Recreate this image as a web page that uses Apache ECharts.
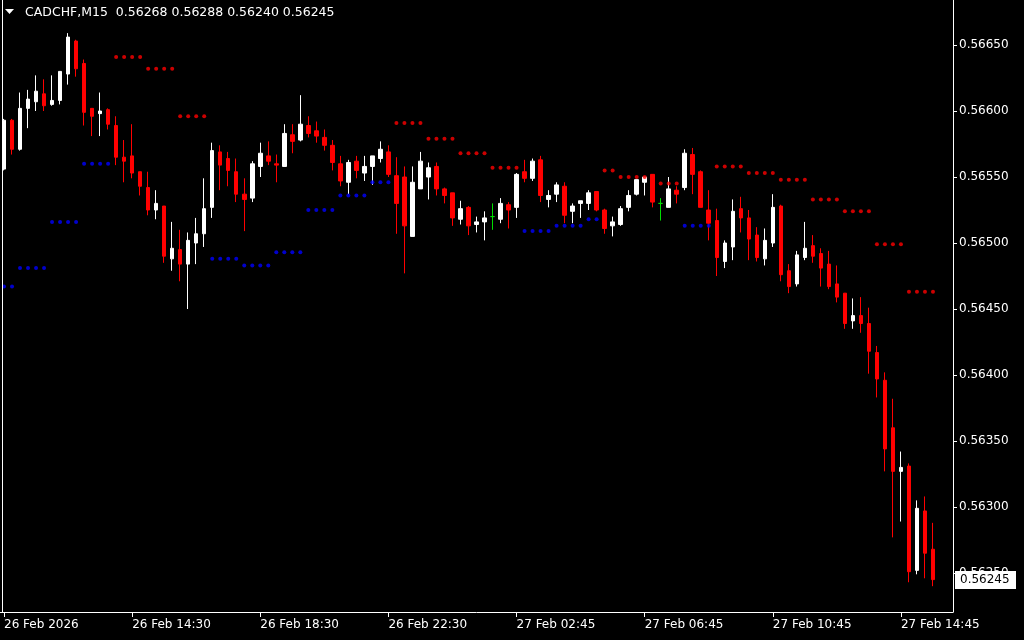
<!DOCTYPE html>
<html><head><meta charset="utf-8">
<script src="https://cdn.jsdelivr.net/npm/echarts@6/dist/echarts.min.js"></script>
<style>html,body{margin:0;padding:0;background:#000;}#c{width:1024px;height:640px;}</style>
</head><body><div id="c"></div>
<script>
const symbolName = 'CADCHF,M15';
const timeLabels = ['26 Feb 2026','26 Feb 14:30','26 Feb 18:30','26 Feb 22:30','27 Feb 02:45','27 Feb 06:45','27 Feb 10:45','27 Feb 14:45'];
const priceTicks = [0.56250,0.56300,0.56350,0.56400,0.56450,0.56500,0.56550,0.56600,0.56650];

const opens = [0.56556,0.56593,0.56571,0.56602,0.56607,0.56613,0.56605,0.56608,0.56628,0.56653,
0.56636,0.56602,0.56598,0.56601,0.56589,0.56565,0.56566,0.56554,0.56542,0.56525,
0.56528,0.56488,0.56495,0.56484,0.56500,0.56507,0.56527,0.56569,0.56564,0.56554,
0.56537,0.56534,0.56558,0.56566,0.56560,0.56558,0.56582,0.56578,0.56589,0.56585,
0.56580,0.56574,0.56560,0.56546,0.56562,0.56553,0.56558,0.56564,0.56569,0.56551,
0.56550,0.56505,0.56541,0.56550,0.56558,0.56541,0.56538,0.56518,0.56527,0.56514,
0.56516,0.56520,0.56518,0.56529,0.56527,0.56554,0.56549,0.56563,0.56533,0.56537,
0.56543,0.56524,0.56530,0.56530,0.56539,0.56525,0.56513,0.56514,0.56527,0.56537,
0.56546,0.56552,0.56530,0.56527,0.56540,0.56542,0.56567,0.56554,0.56525,0.56517,
0.56486,0.56497,0.56526,0.56519,0.56506,0.56488,0.56500,0.56528,0.56479,0.56469,
0.56489,0.56498,0.56492,0.56484,0.56469,0.56462,0.56441,0.56445,0.56439,0.56417,
0.56396,0.56360,0.56327,0.56331,0.56252,0.56297,0.56268];
const highs = [0.56594,0.56594,0.56614,0.56616,0.56627,0.56624,0.56627,0.56630,0.56659,0.56654,
0.56639,0.56602,0.56614,0.56602,0.56596,0.56578,0.56590,0.56554,0.56554,0.56540,
0.56528,0.56516,0.56510,0.56508,0.56519,0.56549,0.56576,0.56574,0.56569,0.56564,
0.56549,0.56562,0.56576,0.56577,0.56567,0.56590,0.56590,0.56612,0.56596,0.56592,
0.56586,0.56578,0.56566,0.56563,0.56566,0.56566,0.56566,0.56577,0.56574,0.56565,
0.56558,0.56558,0.56569,0.56561,0.56561,0.56542,0.56538,0.56532,0.56528,0.56520,
0.56524,0.56530,0.56534,0.56531,0.56553,0.56563,0.56564,0.56566,0.56540,0.56546,
0.56546,0.56530,0.56532,0.56540,0.56539,0.56526,0.56520,0.56528,0.56540,0.56548,
0.56550,0.56552,0.56534,0.56550,0.56543,0.56571,0.56572,0.56555,0.56540,0.56526,
0.56502,0.56533,0.56535,0.56525,0.56512,0.56511,0.56537,0.56529,0.56484,0.56494,
0.56516,0.56506,0.56496,0.56494,0.56483,0.56462,0.56458,0.56459,0.56451,0.56422,
0.56402,0.56382,0.56342,0.56333,0.56305,0.56308,0.56288];
const lows = [0.56555,0.56567,0.56570,0.56587,0.56600,0.56600,0.56604,0.56605,0.56620,0.56626,
0.56589,0.56581,0.56581,0.56586,0.56559,0.56546,0.56549,0.56536,0.56521,0.56518,
0.56485,0.56479,0.56471,0.56450,0.56484,0.56497,0.56519,0.56540,0.56543,0.56531,
0.56509,0.56531,0.56550,0.56559,0.56546,0.56558,0.56568,0.56577,0.56580,0.56576,
0.56570,0.56555,0.56543,0.56537,0.56549,0.56547,0.56544,0.56561,0.56550,0.56507,
0.56477,0.56505,0.56541,0.56533,0.56536,0.56530,0.56513,0.56514,0.56506,0.56508,
0.56502,0.56510,0.56515,0.56511,0.56519,0.56546,0.56547,0.56531,0.56527,0.56531,
0.56515,0.56515,0.56519,0.56525,0.56524,0.56507,0.56505,0.56513,0.56524,0.56536,
0.56536,0.56527,0.56517,0.56527,0.56530,0.56540,0.56537,0.56527,0.56502,0.56475,
0.56481,0.56487,0.56508,0.56487,0.56486,0.56483,0.56497,0.56471,0.56462,0.56467,
0.56487,0.56485,0.56467,0.56465,0.56455,0.56435,0.56435,0.56432,0.56401,0.56383,
0.56327,0.56277,0.56289,0.56243,0.56249,0.56246,0.56240];
const closes = [0.56593,0.56571,0.56602,0.56609,0.56615,0.56604,0.56608,0.56630,0.56656,0.56632,
0.56599,0.56596,0.56600,0.56590,0.56565,0.56562,0.56553,0.56543,0.56525,0.56530,
0.56490,0.56496,0.56484,0.56502,0.56507,0.56526,0.56570,0.56559,0.56555,0.56537,
0.56533,0.56560,0.56568,0.56562,0.56559,0.56583,0.56577,0.56590,0.56583,0.56581,
0.56574,0.56561,0.56547,0.56561,0.56555,0.56558,0.56566,0.56571,0.56552,0.56530,
0.56513,0.56546,0.56562,0.56557,0.56541,0.56536,0.56519,0.56526,0.56513,0.56516,
0.56519,0.56520,0.56530,0.56525,0.56552,0.56549,0.56562,0.56536,0.56536,0.56544,
0.56521,0.56528,0.56532,0.56538,0.56525,0.56511,0.56516,0.56526,0.56536,0.56548,
0.56550,0.56531,0.56530,0.56541,0.56537,0.56568,0.56552,0.56527,0.56515,0.56489,
0.56500,0.56524,0.56519,0.56503,0.56489,0.56502,0.56527,0.56476,0.56467,0.56491,
0.56496,0.56490,0.56481,0.56467,0.56459,0.56439,0.56445,0.56439,0.56418,0.56397,
0.56344,0.56327,0.56330,0.56251,0.56299,0.56265,0.56245];

// indicator levels: [firstBar, lastBar, price]
const upperLevels = [[14,17,0.56641],[18,21,0.56632],[22,25,0.56596],[49,52,0.56591],[53,56,0.56579],
[57,60,0.56568],[61,64,0.56557],[75,76,0.56555],[77,80,0.56550],[81,84,0.56545],[89,92,0.56558],
[93,96,0.56553],[97,100,0.56548],[101,104,0.56533],[105,108,0.56524],[109,112,0.56499],[113,116,0.56463]];
const lowerLevels = [[0,1,0.56467],[2,5,0.56481],[6,9,0.56516],[10,13,0.56560],[26,29,0.56488],
[30,33,0.56483],[34,37,0.56493],[38,41,0.56525],[42,45,0.56536],[46,48,0.56546],[65,68,0.56509],
[69,72,0.56513],[73,74,0.56518],[85,88,0.56513]];

const FONT = 'DejaVu Sans';
const UP = '#ffffff', DOWN = '#ff0000', DOJI = '#00dd00';
const emptySlots = 2;
const n = opens.length;
const cats = [];
for (let i = 0; i < n + emptySlots; i++) cats.push(String(i));
const candleData = opens.map((o, i) => {
  const item = { value: [o, closes[i], lows[i], highs[i]] };
  if (o === closes[i]) item.itemStyle = { color: DOJI, color0: DOJI, borderColor: DOJI, borderColor0: DOJI, borderColorDoji: DOJI };
  return item;
});
function expand(levels) {
  const pts = [];
  levels.forEach(([a, b, p]) => { for (let k = a; k <= b; k++) pts.push([String(k), p]); });
  return pts;
}
const yMax = 0.56684091, yMin = 0.56220455;
const last = n - 1;
const fmt = v => v.toFixed(5);

const chart = echarts.init(document.getElementById('c'), null, { renderer: 'canvas' });
chart.setOption({
  backgroundColor: '#000000',
  animation: false,
  grid: { left: 0, right: 71, top: 0, bottom: 28 },
  xAxis: {
    type: 'category', data: cats, boundaryGap: true,
    axisLine: { show: true, lineStyle: { color: '#ffffff', width: 1 } },
    axisTick: { show: true, interval: 15, alignWithLabel: true, length: 5, lineStyle: { color: '#ffffff' } },
    axisLabel: { show: true, interval: 15, align: 'left', margin: 7, color: '#ffffff', fontFamily: FONT, fontSize: 12,
      formatter: (v, idx) => (idx % 16 === 0 && timeLabels[idx / 16]) ? timeLabels[idx / 16] : '' },
    splitLine: { show: false }
  },
  yAxis: {
    type: 'value', position: 'right', min: yMin, max: yMax, scale: true,
    axisLine: { show: true, lineStyle: { color: '#ffffff', width: 1 } },
    axisTick: { show: true, length: 4, customValues: priceTicks, lineStyle: { color: '#ffffff' } },
    axisLabel: { show: true, margin: 6, color: '#ffffff', fontFamily: FONT, fontSize: 12, customValues: priceTicks,
      formatter: v => fmt(v) },
    splitLine: { show: false }
  },
  series: [
    {
      type: 'candlestick', name: symbolName, data: candleData, barWidth: 4, z: 3,
      itemStyle: { color: UP, color0: DOWN, borderColor: UP, borderColor0: DOWN, borderColorDoji: DOJI, borderWidth: 1 }
    },
    {
      type: 'scatter', data: expand(upperLevels), symbol: 'circle', symbolSize: 4, z: 4,
      itemStyle: { color: '#ff0000' }
    },
    {
      type: 'scatter', data: expand(lowerLevels), symbol: 'circle', symbolSize: 4, z: 4,
      itemStyle: { color: '#0000ff' }
    }
  ],
  graphic: [
    { type: 'line', shape: { x1: 2.5, y1: 0, x2: 2.5, y2: 612 }, style: { stroke: '#ffffff', lineWidth: 1 }, z: 10 },
    { type: 'polygon', shape: { points: [[5, 9], [14, 9], [9.5, 14]] }, style: { fill: '#ffffff' }, z: 10 },
    { type: 'text', left: 25, top: 6, z: 10,
      style: { text: symbolName + '  ' + [opens[last], highs[last], lows[last], closes[last]].map(fmt).join(' '),
        fill: '#ffffff', font: '12.5px "' + FONT + '"' } }
  ]
});

// current price tag on the price scale, positioned through the axis scale
const gridRect = chart.getModel().getComponent('grid').coordinateSystem.getRect();
const priceY = chart.convertToPixel({ yAxisIndex: 0 }, closes[last]);
const axisX = gridRect.x + gridRect.width;
chart.setOption({
  graphic: [
    { type: 'line', shape: { x1: 2.5, y1: 0, x2: 2.5, y2: 612 }, style: { stroke: '#ffffff', lineWidth: 1 }, z: 10 },
    { type: 'polygon', shape: { points: [[5, 9], [14, 9], [9.5, 14]] }, style: { fill: '#ffffff' }, z: 10 },
    { type: 'text', left: 25, top: 6, z: 10,
      style: { text: symbolName + '  ' + [opens[last], highs[last], lows[last], closes[last]].map(fmt).join(' '),
        fill: '#ffffff', font: '12.5px "' + FONT + '"' } },
    { type: 'rect', z: 50, shape: { x: axisX + 2, y: Math.round(priceY) - 9, width: 61, height: 18 },
      style: { fill: '#ffffff' } },
    { type: 'text', z: 51, x: axisX + 7, y: Math.round(priceY),
      style: { text: fmt(closes[last]), fill: '#000000', font: '12px "' + FONT + '"', textVerticalAlign: 'middle' } }
  ]
}, { replaceMerge: ['graphic'] });
</script></body></html>
